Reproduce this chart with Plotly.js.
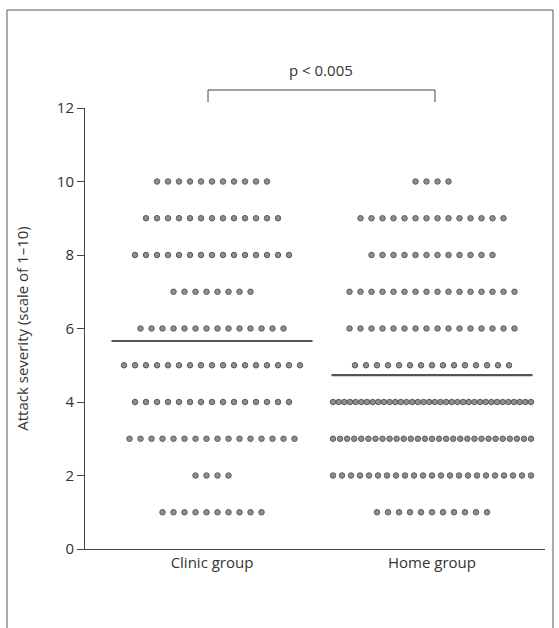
<!DOCTYPE html>
<html>
<head>
<meta charset="utf-8">
<script src="https://cdn.plot.ly/plotly-3.0.1.min.js"></script>
<style>html,body{margin:0;padding:0;background:#fff;}#chart{width:559px;height:628px;}</style>
</head>
<body>
<div id="chart"></div>
<script>
// ---- data ----
var categories = ["Clinic group", "Home group"];
var severityLevels = [10, 9, 8, 7, 6, 5, 4, 3, 2, 1];
var clinicCounts = [11, 13, 15, 8, 14, 17, 15, 16, 4, 10];
var homeCounts   = [4, 14, 12, 16, 16, 15, 36, 29, 23, 11];
var groupMeans   = [5.66, 4.73];
var yTickVals    = [0, 2, 4, 6, 8, 10, 12];
var pLabel       = "p < 0.005";
var yTitle       = "Attack severity (scale of 1\u201310)";

// ---- build dot strips ----
function strip(counts, center) {
  var xs = [], ys = [];
  var maxSpan = 0.9;      // max width of a row in axis units
  var baseStep = 0.05;    // normal spacing between dots
  for (var i = 0; i < severityLevels.length; i++) {
    var n = counts[i];
    var step = n > 1 ? Math.min(baseStep, maxSpan / (n - 1)) : 0;
    var start = center - step * (n - 1) / 2;
    for (var k = 0; k < n; k++) {
      xs.push(start + k * step);
      ys.push(severityLevels[i]);
    }
  }
  return {x: xs, y: ys};
}
var groupCenters = [1, 2];
var countsList = [clinicCounts, homeCounts];
var traces = [];
for (var g = 0; g < categories.length; g++) {
  var s = strip(countsList[g], groupCenters[g]);
  traces.push({
    type: "scatter", mode: "markers", x: s.x, y: s.y, name: categories[g],
    cliponaxis: false, hoverinfo: "y",
    marker: {size: 5.5, color: "#8f8f8f", line: {color: "#5a5a5a", width: 1}}
  });
  traces.push({
    type: "scatter", mode: "lines",
    x: [groupCenters[g] - 0.457, groupCenters[g] + 0.457],
    y: [groupMeans[g], groupMeans[g]],
    line: {color: "#555", width: 2.2}, hoverinfo: "y", showlegend: false
  });
}

var layout = {
  width: 559, height: 628,
  margin: {l: 85, r: 14, t: 108, b: 79},
  paper_bgcolor: "#fff", plot_bgcolor: "#fff",
  showlegend: false,
  font: {family: "Open Sans, DejaVu Sans, sans-serif", size: 15, color: "#333"},
  xaxis: {
    range: [0.4227, 2.5136], tickvals: groupCenters, ticktext: categories,
    showgrid: false, zeroline: false, showline: true, linecolor: "#444", linewidth: 1,
    ticks: "", ticklen: 0, tickfont: {size: 15, color: "#333"}, fixedrange: true
  },
  yaxis: {
    range: [0, 12], tickvals: yTickVals, showgrid: false, zeroline: false,
    showline: true, linecolor: "#444", linewidth: 1,
    ticks: "outside", ticklen: 7, tickcolor: "#444", tickwidth: 1,
    tickfont: {size: 15, color: "#333"},
    title: {text: yTitle, font: {size: 15, color: "#333"}, standoff: 24},
    fixedrange: true
  },
  shapes: [
    // outer frame
    {type: "rect", xref: "paper", yref: "paper", x0: -0.1696, x1: 1.0174, y0: -0.3, y1: 1.2222,
     line: {color: "#555", width: 1}},
    // significance bracket
    {type: "path", xref: "paper", yref: "paper",
     path: "M 0.2674 1.0136 L 0.2674 1.0408 L 0.7609 1.0408 L 0.7609 1.0136",
     line: {color: "#444", width: 1}}
  ],
  annotations: [
    {xref: "paper", yref: "paper", x: 0.514, y: 1.058, text: pLabel, showarrow: false,
     xanchor: "center", yanchor: "bottom", font: {size: 15, color: "#333"}}
  ]
};
Plotly.newPlot("chart", traces, layout, {displayModeBar: false, staticPlot: true});
</script>
</body>
</html>
